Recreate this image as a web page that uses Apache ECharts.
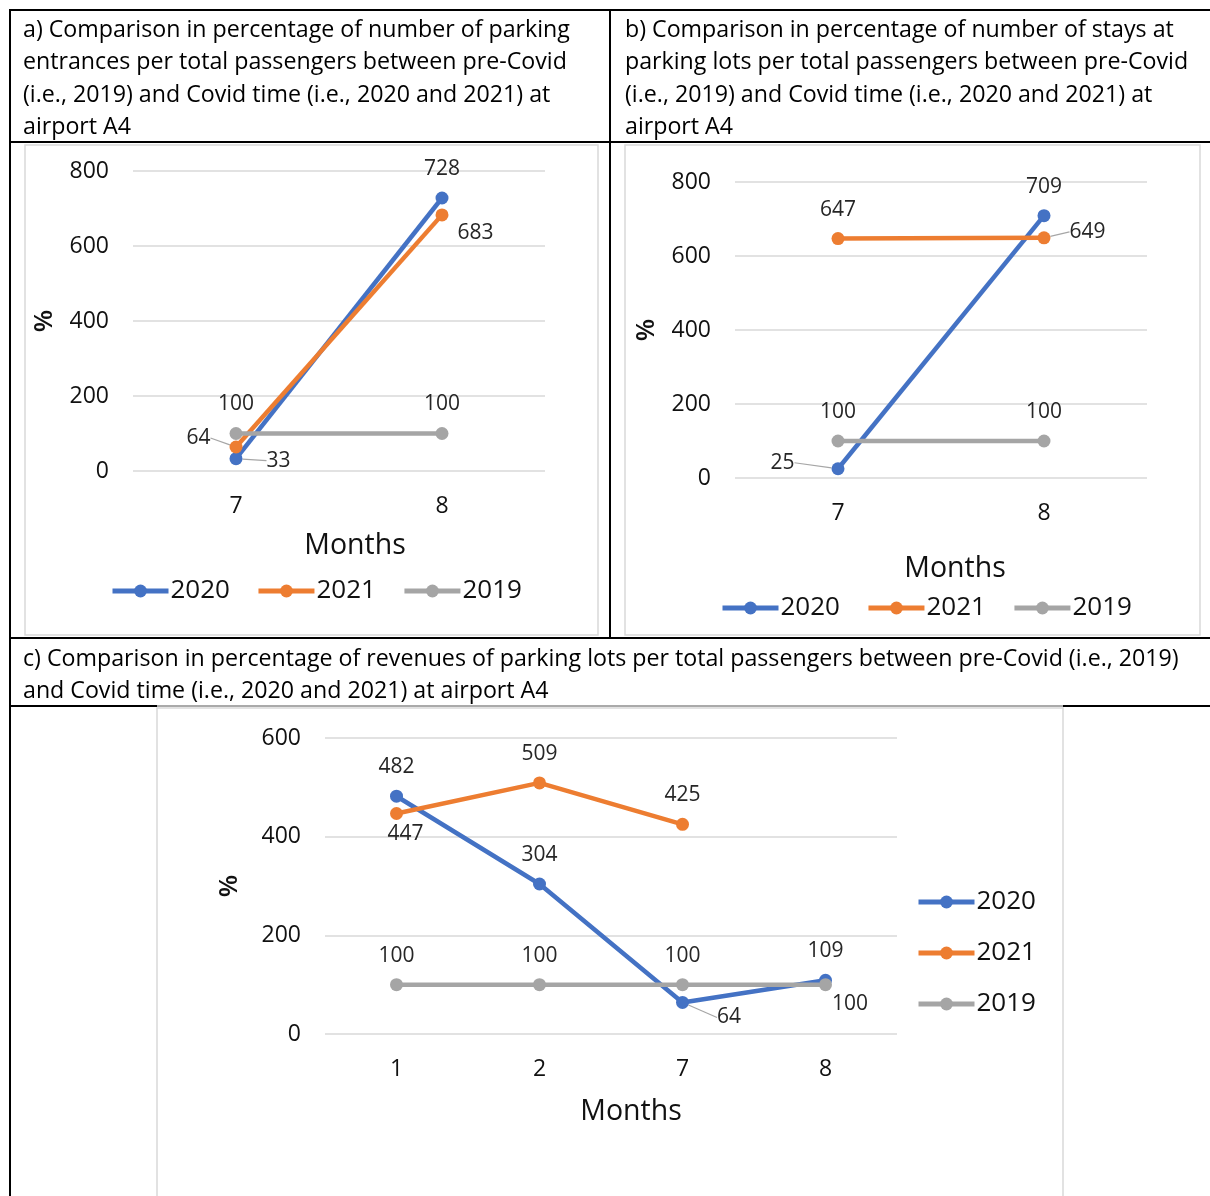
<!DOCTYPE html>
<html>
<head>
<meta charset="utf-8">
<script src="https://cdn.jsdelivr.net/npm/echarts@6/dist/echarts.min.js"></script>
<style>
  html, body { margin: 0; padding: 0; background: #fff; }
  #chart { width: 1210px; height: 1196px; }
</style>
</head>
<body>
<div id="chart"></div>
<script>
// ---- data ----
const monthsA = ['7', '8'];
const entries2020 = [33, 728];
const entries2021 = [64, 683];
const entries2019 = [100, 100];

const monthsB = ['7', '8'];
const stays2020 = [25, 709];
const stays2021 = [647, 649];
const stays2019 = [100, 100];

const monthsC = ['1', '2', '7', '8'];
const revenue2020 = [482, 304, 64, 109];
const revenue2021 = [447, 509, 425, null];
const revenue2019 = [100, 100, 100, 100];

const seriesNames = ['2020', '2021', '2019'];
const ticksAB = [0, 200, 400, 600, 800];
const ticksC = [0, 200, 400, 600];

const titleA = 'a) Comparison in percentage of number of parking\nentrances per total passengers between pre-Covid\n(i.e., 2019) and Covid time (i.e., 2020 and 2021) at\nairport A4';
const titleB = 'b) Comparison in percentage of number of stays at\nparking lots per total passengers between pre-Covid\n(i.e., 2019) and Covid time (i.e., 2020 and 2021) at\nairport A4';
const titleC = 'c) Comparison in percentage of revenues of parking lots per total passengers between pre-Covid (i.e., 2019)\nand Covid time (i.e., 2020 and 2021) at airport A4';

// ---- styling ----
const FONT = '"Open Sans", Lato, sans-serif';
const COLORS = { '2020': '#4472C4', '2021': '#ED7D31', '2019': '#A5A5A5' };
const TEXT = '#111';
const LABEL = '#262626';

// where each value label sits (position, nudge, leader line)
const T = { pos: 'top' };
const labelPlacement = {
  a: {
    '2020': [{ pos: 'right', dx: 12, dy: 2, line: true }, T],
    '2021': [{ pos: 'left', dx: -7, dy: -9, line: true }, { pos: 'right', dx: -3, dy: 18 }],
    '2019': [T, T]
  },
  b: {
    '2020': [{ pos: 'left', dx: -25, dy: -6, line: true }, T],
    '2021': [T, { pos: 'right', dx: 7, dy: -6, line: true }],
    '2019': [T, T]
  },
  c: {
    '2020': [T, T, { pos: 'right', dx: 16, dy: 15, line: true }, T],
    '2021': [{ pos: 'bottom', dx: 9, dy: -8 }, T, T, T],
    '2019': [T, T, T, { pos: 'right', dx: -12, dy: 19 }]
  }
};

function lineSeries(name, values, idx, places) {
  return {
    type: 'line',
    name: name,
    xAxisIndex: idx,
    yAxisIndex: idx,
    symbol: 'circle',
    symbolSize: 13,
    color: COLORS[name],
    lineStyle: { width: 4.5, color: COLORS[name] },
    itemStyle: { color: COLORS[name] },
    emphasis: { disabled: true },
    data: values.map(function (v, i) {
      const p = places[i];
      return {
        value: v,
        label: { position: p.pos },
        labelLine: { show: !!p.line, length2: 0, lineStyle: { color: '#A6A6A6', width: 1.2 } }
      };
    }),
    label: {
      show: true,
      distance: 12,
      fontFamily: FONT,
      fontSize: 21,
      color: LABEL
    },
    labelLayout: function (params) {
      const p = places[params.dataIndex] || {};
      return { dx: p.dx || 0, dy: p.dy || 0 };
    },
    animation: false
  };
}

function xCat(idx, cats, nameGap, namePad) {
  return {
    type: 'category',
    gridIndex: idx,
    data: cats,
    boundaryGap: true,
    axisLine: { show: false },
    axisTick: { show: false },
    axisLabel: { fontFamily: FONT, fontSize: 23, color: TEXT, margin: 24 },
    name: 'Months',
    nameLocation: 'middle',
    nameGap: nameGap,
    nameTextStyle: { fontFamily: FONT, fontSize: 28.5, color: TEXT, padding: namePad }
  };
}

function yVal(idx, ticks, nameGap) {
  return {
    type: 'value',
    gridIndex: idx,
    min: ticks[0],
    max: ticks[ticks.length - 1],
    interval: ticks[1] - ticks[0],
    axisLine: { show: false },
    axisTick: { show: false },
    splitLine: { lineStyle: { color: '#D9D9D9', width: 1.5 } },
    axisLabel: { fontFamily: FONT, fontSize: 23, color: TEXT, margin: 24 },
    name: '%',
    nameLocation: 'middle',
    nameGap: nameGap,
    nameTextStyle: { fontFamily: FONT, fontSize: 26, fontWeight: 600, color: TEXT }
  };
}

function legendAt(pos, orient, gap) {
  return Object.assign({
    data: seriesNames,
    orient: orient,
    itemWidth: 56,
    itemHeight: 16,
    itemGap: gap,
    padding: 0,
    selectedMode: false,
    lineStyle: { width: 5 },
    textStyle: { fontFamily: FONT, fontSize: 26, color: TEXT, padding: [0, 0, 0, -3] }
  }, pos);
}

function blackLine(x1, y1, x2, y2) {
  return { type: 'line', shape: { x1: x1, y1: y1, x2: x2, y2: y2 }, style: { stroke: '#000', lineWidth: 2 }, silent: true };
}
function frame(x, y, w, h) {
  return { type: 'rect', shape: { x: x, y: y, width: w, height: h }, style: { fill: 'none', stroke: '#D9D9D9', lineWidth: 1.5 }, silent: true };
}
function heading(text, x, y) {
  return { type: 'text', x: x, y: y, style: { text: text, fontFamily: FONT, fontSize: 23.2, lineHeight: 32.5, fill: '#000' }, silent: true };
}

const option = {
  backgroundColor: '#fff',
  animation: false,
  grid: [
    { left: 133, top: 171, width: 412, height: 300 },
    { left: 735, top: 182, width: 412, height: 296 },
    { left: 325, top: 738, width: 572, height: 296 }
  ],
  xAxis: [
    xCat(0, monthsA, 60, [0, 0, 0, 32]),
    xCat(1, monthsB, 76, [0, 0, 0, 28]),
    xCat(2, monthsC, 63, [0, 0, 0, 40])
  ],
  yAxis: [
    yVal(0, ticksAB, 75),
    yVal(1, ticksAB, 75),
    yVal(2, ticksC, 82)
  ],
  legend: [
    legendAt({ left: 110, top: 578 }, 'horizontal', 26),
    legendAt({ left: 720, top: 595 }, 'horizontal', 26),
    legendAt({ left: 916, top: 889 }, 'vertical', 25)
  ],
  series: [
    lineSeries('2020', entries2020, 0, labelPlacement.a['2020']),
    lineSeries('2021', entries2021, 0, labelPlacement.a['2021']),
    lineSeries('2019', entries2019, 0, labelPlacement.a['2019']),
    lineSeries('2020', stays2020, 1, labelPlacement.b['2020']),
    lineSeries('2021', stays2021, 1, labelPlacement.b['2021']),
    lineSeries('2019', stays2019, 1, labelPlacement.b['2019']),
    lineSeries('2020', revenue2020, 2, labelPlacement.c['2020']),
    lineSeries('2021', revenue2021, 2, labelPlacement.c['2021']),
    lineSeries('2019', revenue2019, 2, labelPlacement.c['2019'])
  ],
  graphic: [
    // chart frames
    frame(25, 145, 573, 490),
    frame(625, 145, 575, 490),
    frame(157, 708, 906, 500),
    // table rules
    blackLine(9, 10, 1210, 10),
    blackLine(10, 9, 10, 1196),
    blackLine(610, 10, 610, 638),
    blackLine(10, 142, 1210, 142),
    blackLine(10, 638, 1210, 638),
    blackLine(10, 706, 157, 706),
    blackLine(1063, 706, 1210, 706),
    { type: 'line', shape: { x1: 157, y1: 706, x2: 1063, y2: 706 }, style: { stroke: '#555', lineWidth: 1 }, silent: true },
    // panel headings
    heading(titleA, 23, 14),
    heading(titleB, 625, 14),
    heading(titleC, 23, 643)
  ]
};

const chart = echarts.init(document.getElementById('chart'), null, { renderer: 'canvas' });
chart.setOption(option);
</script>
</body>
</html>
